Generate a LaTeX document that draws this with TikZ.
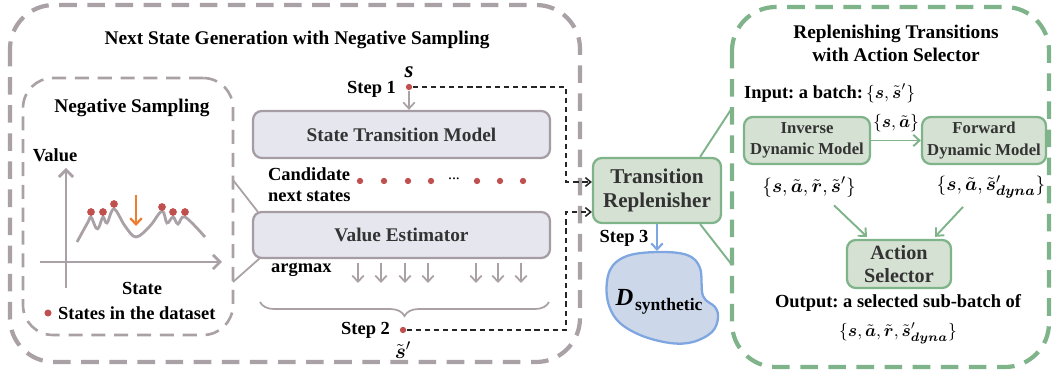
\documentclass[tikz,border=0pt]{standalone}
\usepackage{amsmath}
\usepackage{amsbsy}
\usepackage{fontspec}
\setmainfont{Liberation Serif}
\usetikzlibrary{arrows.meta,decorations.pathreplacing}
\frenchspacing

\definecolor{framegray}{HTML}{A9A1A6}
\definecolor{boxgray}{HTML}{A59DA3}
\definecolor{boxfill}{HTML}{E6E6EF}
\definecolor{greenline}{HTML}{7FB38A}
\definecolor{greenfill}{HTML}{D5E1D2}
\definecolor{dotred}{HTML}{C0504D}
\definecolor{arrorange}{HTML}{ED7D31}
\definecolor{blobfill}{HTML}{CCD7E9}
\definecolor{blobline}{HTML}{7EA6E0}
\definecolor{textdark}{HTML}{333333}

\tikzset{
  modelbox/.style={draw=boxgray, fill=boxfill, line width=1.3pt, rounded corners=5pt,
    text=textdark, font=\fontsize{11}{13}\selectfont\bfseries},
  greenbox/.style={draw=greenline, fill=greenfill, line width=1.3pt, rounded corners=5pt,
    text=textdark, align=center, inner sep=0pt},
  lbl/.style={font=\fontsize{10.5}{12}\selectfont\bfseries, inner sep=1pt},
  sdot/.style={circle, fill=dotred, inner sep=0pt, minimum size=3.6pt},
  graylink/.style={draw=framegray, line width=1pt},
  grayarrow/.style={graylink, -{Straight Barb[length=3.5pt,width=6.5pt]}},
  steplink/.style={draw=black!85, line width=0.9pt, dash pattern=on 3pt off 2.2pt,
    -{Straight Barb[length=3pt,width=5pt]}},
  greenlink/.style={draw=greenline, line width=1.1pt},
  greenarrow/.style={greenlink, -{Straight Barb[length=3.5pt,width=6.5pt]}}
}

\begin{document}
\begin{tikzpicture}[x=0.02cm, y=-0.02cm]
             \useasboundingbox (0,0) rectangle (1058,374);

             % next state generation
             \draw[framegray, line width=2.4pt, dash pattern=on 10pt off 6pt, rounded corners=25pt]
                  (10,5) rectangle (580,362);
             \node[lbl, font=\fontsize{11}{13}\selectfont\bfseries] at (297,40)
                  {Next State Generation with Negative Sampling};

             \node[draw=framegray, line width=1.5pt, dash pattern=on 8pt off 5pt, rounded corners=17pt,
                  minimum width=4.2cm, minimum height=5.14cm] (negbox) at (128,206.5) {};
             \node[lbl, font=\fontsize{11}{13}\selectfont\bfseries] at (132,108) {Negative Sampling};
             \node[lbl] at (55,155) {Value};
             \node[lbl] at (142,288) {State};
             \node[sdot, minimum size=4pt] (legdot) at (48,313) {};
             \node[lbl, anchor=west] at (56,313) {States in the dataset};
             \draw[framegray, line width=1.6pt, -{Straight Barb[length=4pt,width=8pt]}] (66,288) -- (66,168);
             \draw[framegray, line width=1.6pt, -{Straight Barb[length=4pt,width=8pt]}] (40,262) -- (222,262);
             \draw[framegray, line width=1.6pt] plot[smooth, tension=0.6] coordinates {
                  (77,242) (88,222) (91,217) (96,228) (99,227) (103,217) (107,223)
                  (114,209) (125,226) (136,237) (150,226) (162,211) (167,223)
                  (173,217) (178,224) (185,217) (205,237)};
             \foreach \px/\py in {91/212, 103/212, 114/204, 162/207, 173/212, 185/212}
                  \fill[dotred] (\px,\py) circle (2.2pt);
             \draw[arrorange, line width=1.3pt, -{Straight Barb[length=3.5pt,width=6.5pt]}] (136,195) -- (136,226);

             \node[modelbox, minimum width=5.94cm, minimum height=0.94cm] (stm) at (401.5,134.5)
                  {State Transition Model};
             \node[modelbox, minimum width=5.94cm, minimum height=0.92cm] (vest) at (401.5,235)
                  {Value Estimator};
             \coordinate (nbup) at (233,180);
             \coordinate (nblow) at (233,282);
             \draw[graylink] (nbup) -- ([shift={(6,1)}]vest.north west);
             \draw[graylink] (nblow) -- ([shift={(8,-1)}]vest.south west);

             \node[sdot] (s0) at (409,87) {};
             \node[font=\fontsize{13}{13}\selectfont\bfseries\itshape, inner sep=0pt] at (409,72) {s};
             \node[lbl, anchor=east] at (398,89) {Step 1};
             \draw[grayarrow] (s0) -- (stm.north -| s0);

             \node[lbl, anchor=west, align=left] at (266,185) {Candidate\\next states};
             \foreach \px in {360,384,408,431,477,500,523}
                  \fill[dotred] (\px,181) circle (1.8pt);
             \node[lbl, font=\fontsize{9}{9}\selectfont] at (454,179) {...};

             \node[lbl, anchor=west] at (269,270) {argmax};
             \foreach \px in {358,381,405,428,476,498,521}
                  \draw[grayarrow] (\px,263) -- (\px,283);
             \draw[framegray, line width=1pt, decorate, decoration={brace, amplitude=8pt}]
                  (549,302) -- (260,302);

             \node[sdot] (s2) at (403,330) {};
             \node[lbl, anchor=east] at (392,330) {Step 2};
             \node[inner sep=0pt] at (403,350) {\fontsize{13}{13}\selectfont$\tilde{\boldsymbol{s}}'$};

             % replenisher
             \node[greenbox, minimum width=2.56cm, minimum height=1.3cm,
                  font=\fontsize{12}{14}\selectfont\bfseries] (trep) at (657,190.5)
                  {Transition\\Replenisher};
             \coordinate (c1) at (566,182);
             \coordinate (c2) at (566,212);
             \draw[steplink] (s0) -| (c1) -- (c1 -| trep.west);
             \draw[steplink] (s2) -| (c2) -- (c2 -| trep.west);

             \node[lbl] at (624,238) {Step 3};
             \coordinate (dtop) at (657,251);
             \draw[blobline, line width=1.2pt, -{Straight Barb[length=3.5pt,width=6.5pt]}] (trep.south -| dtop) -- (dtop);
             \draw[blobline, fill=blobfill, line width=1.3pt] plot[smooth cycle, tension=0.6] coordinates {
                  (658,252) (687,255) (700,268) (703,296) (715,307) (718,318) (712,332)
                  (693,342) (670,343) (640,335) (617,320) (607,297) (610,270) (627,256)};
             \node at (659,302) {\fontsize{14}{14}\selectfont\bfseries\itshape D\hspace{1pt}%
                  \raisebox{-3pt}{\fontsize{10}{10}\selectfont\upshape synthetic}};

             % action selector
             \draw[greenline, line width=2.4pt, dash pattern=on 10pt off 6pt, rounded corners=25pt]
                  (732,7) rectangle (1049,367);
             \coordinate (gin1) at (732,108);
             \coordinate (gin2) at (732,265);
             \draw[greenlink] ([shift={(-22,0)}]trep.north east) -- (gin1);
             \draw[greenlink] ([shift={(-22,0)}]trep.south east) -- (gin2);
             \node[lbl, font=\fontsize{11}{13}\selectfont\bfseries, align=center] at (896,43)
                  {Replenishing Transitions\\with Action Selector};
             \node[lbl, anchor=west] at (742,93)
                  {Input: a batch:\,{\fontsize{10}{10}\selectfont$\{\boldsymbol{s},\tilde{\boldsymbol{s}}'\}$}};

             \node[greenbox, minimum width=2.52cm, minimum height=0.94cm,
                  font=\fontsize{9.5}{12}\selectfont\bfseries] (idm) at (807,140.5)
                  {Inverse\\Dynamic Model};
             \node[greenbox, minimum width=2.48cm, minimum height=0.94cm,
                  font=\fontsize{9.5}{12}\selectfont\bfseries] (fdm) at (984,140.5)
                  {Forward\\Dynamic Model};
             \draw[greenarrow] (idm) -- node[above=1pt, font=\fontsize{10}{10}\selectfont]
                  {$\{\boldsymbol{s},\tilde{\boldsymbol{a}}\}$} (fdm);

             \node[font=\fontsize{11}{11}\selectfont] (set1) at (809,187)
                  {$\{\boldsymbol{s},\tilde{\boldsymbol{a}},\tilde{\boldsymbol{r}},\tilde{\boldsymbol{s}}'\}$};
             \node[font=\fontsize{11}{11}\selectfont] (set2) at (991,187)
                  {$\{\boldsymbol{s},\tilde{\boldsymbol{a}},\tilde{\boldsymbol{s}}'_{\boldsymbol{dyna}}\}$};

             \node[greenbox, minimum width=2.08cm, minimum height=0.96cm,
                  font=\fontsize{11.5}{13}\selectfont\bfseries] (asel) at (899,264)
                  {Action\\Selector};
             \draw[greenarrow] ([shift={(25,2)}]set1.south) -- ([shift={(-32,-2)}]asel.north);
             \draw[greenarrow] ([shift={(-28,2)}]set2.south) -- ([shift={(36,-2)}]asel.north);

             \node[lbl] at (898,303) {Output: a selected sub-batch of};
             \node[font=\fontsize{10}{10}\selectfont] at (898,333)
                  {$\{\boldsymbol{s},\tilde{\boldsymbol{a}},\tilde{\boldsymbol{r}},\tilde{\boldsymbol{s}}'_{\boldsymbol{dyna}}\}$};
             \end{tikzpicture}
\end{document}
